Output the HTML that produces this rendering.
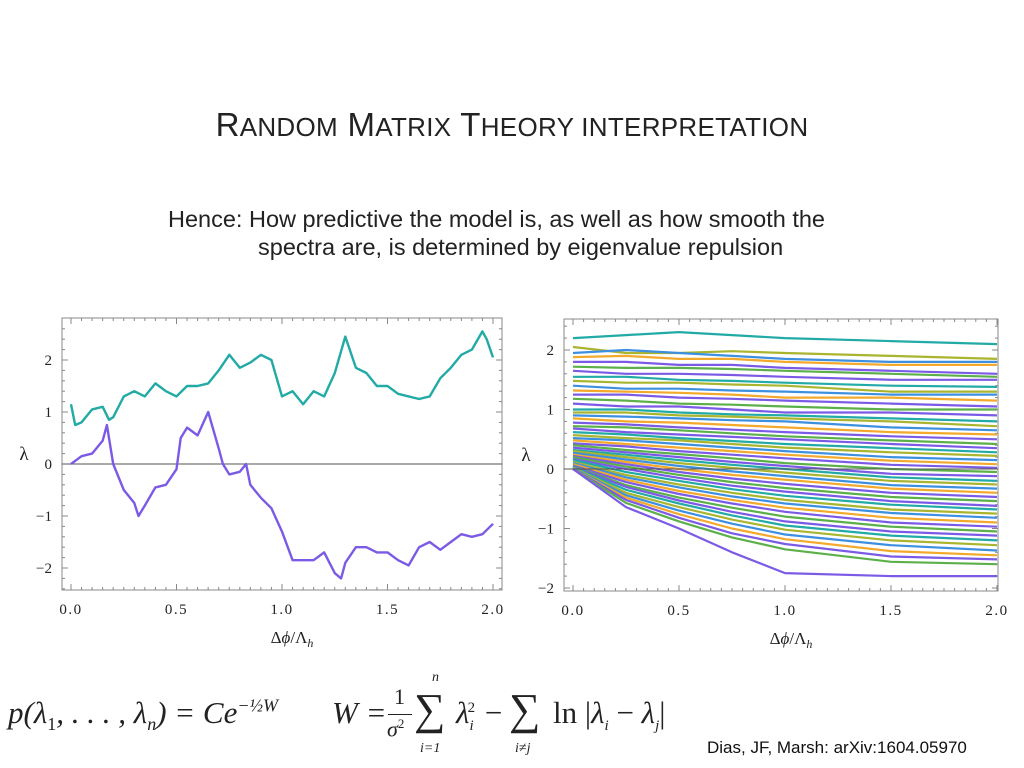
<!DOCTYPE html>
<html><head><meta charset="utf-8"><style>
body{margin:0;width:1024px;height:768px;background:#fff;overflow:hidden;position:relative;font-family:"Liberation Sans",sans-serif}
.abs{position:absolute;white-space:nowrap}
.m{font-family:"Liberation Serif",serif;color:#222}
</style></head><body>
<div class="abs" style="left:0;width:1024px;top:106px;text-align:center;font-size:33px;color:#222;letter-spacing:0.3px">R<span style="font-size:26px">ANDOM</span> M<span style="font-size:26px">ATRIX</span> T<span style="font-size:26px">HEORY INTERPRETATION</span></div>
<div class="abs" style="left:168px;top:206px;font-size:23.5px;color:#222">Hence: How predictive the model is, as well as how smooth the</div>
<div class="abs" style="left:258px;top:234px;font-size:23.5px;color:#222">spectra are, is determined by eigenvalue repulsion</div>

<svg id="chart" width="1024" height="768" style="position:absolute;left:0;top:0"></svg>

<div class="abs m" style="left:8px;top:695px;font-size:31px;font-style:italic">p(λ<sub style="font-style:normal;font-size:18px">1</sub>, . . . , λ<sub style="font-size:18px">n</sub>) = Ce<sup style="font-size:18px">−½W</sup></div>
<div class="abs m" style="left:332px;top:695px;font-size:31px;font-style:italic">W =</div>
<div class="abs m" style="left:394px;top:684px;font-size:22px">1</div>
<div class="abs" style="left:388px;top:714px;width:24px;border-top:1px solid #222"></div>
<div class="abs m" style="left:387px;top:716px;font-size:22px;font-style:italic">σ<sup style="font-size:13px;font-style:normal">2</sup></div>
<div class="abs m" style="left:414px;top:684px;font-size:44px">∑</div>
<div class="abs m" style="left:432px;top:670px;font-size:14px;font-style:italic">n</div>
<div class="abs m" style="left:420px;top:741px;font-size:14px;font-style:italic">i=1</div>
<div class="abs m" style="left:456px;top:695px;font-size:31px;font-style:italic">λ<sub style="font-size:15px">i</sub><sup style="font-size:15px;font-style:normal;margin-left:-6px">2</sup> −</div>
<div class="abs m" style="left:509px;top:684px;font-size:44px">∑</div>
<div class="abs m" style="left:515px;top:741px;font-size:14px;font-style:italic">i≠j</div>
<div class="abs m" style="left:553px;top:695px;font-size:31px">ln |<i>λ<sub style="font-size:15px">i</sub></i> − <i>λ<sub style="font-size:15px">j</sub></i>|</div>
<div class="abs" style="left:707px;top:738px;font-size:17px;color:#111">Dias, JF, Marsh: arXiv:1604.05970</div>

<script>
// Left chart data
const leftX=[0,0.02,0.05,0.1,0.15,0.18,0.2,0.25,0.3,0.35,0.4,0.45,0.5,0.55,0.6,0.65,0.7,0.75,0.8,0.85,0.9,0.95,1.0,1.05,1.1,1.15,1.2,1.25,1.3,1.35,1.4,1.45,1.5,1.55,1.6,1.65,1.7,1.75,1.8,1.85,1.9,1.95,1.97,2.0];
const tealY=[1.15,0.75,0.8,1.05,1.1,0.85,0.9,1.3,1.4,1.3,1.55,1.4,1.3,1.5,1.5,1.55,1.8,2.1,1.85,1.95,2.1,2.0,1.3,1.4,1.15,1.4,1.3,1.75,2.45,1.85,1.75,1.5,1.5,1.35,1.3,1.25,1.3,1.65,1.85,2.1,2.2,2.55,2.4,2.05];
const purpleX=[0,0.05,0.1,0.15,0.17,0.2,0.25,0.3,0.32,0.35,0.4,0.45,0.5,0.52,0.55,0.6,0.65,0.7,0.72,0.75,0.8,0.83,0.85,0.9,0.95,1.0,1.05,1.1,1.15,1.2,1.25,1.28,1.3,1.35,1.4,1.45,1.5,1.55,1.6,1.65,1.7,1.75,1.8,1.85,1.9,1.95,2.0];
const purpleY=[0,0.15,0.2,0.45,0.75,0.0,-0.5,-0.75,-1.0,-0.8,-0.45,-0.4,-0.1,0.5,0.7,0.55,1.0,0.3,0.0,-0.2,-0.15,0.0,-0.4,-0.65,-0.85,-1.3,-1.85,-1.85,-1.85,-1.7,-2.1,-2.2,-1.9,-1.6,-1.6,-1.7,-1.7,-1.85,-1.95,-1.6,-1.5,-1.65,-1.5,-1.35,-1.4,-1.35,-1.15];
const xTicks=["0.0","0.5","1.0","1.5","2.0"];
const leftYTicks=[-2,-1,0,1,2];
const rightYTicks=[-2,-1,0,1,2];
// Right chart data: values at these x positions
const rightX=[0,0.25,0.5,0.75,1.0,1.5,2.0];
const rightLines=[
[2.2,2.25,2.3,2.25,2.2,2.15,2.1],[2.05,1.95,1.95,1.98,1.95,1.9,1.85],[1.95,2.0,1.95,1.9,1.85,1.8,1.8],[1.88,1.9,1.85,1.85,1.8,1.75,1.75],
[1.8,1.8,1.75,1.75,1.7,1.65,1.6],[1.72,1.7,1.7,1.68,1.65,1.6,1.55],[1.65,1.6,1.6,1.58,1.55,1.5,1.5],[1.55,1.55,1.5,1.48,1.45,1.4,1.38],
[1.48,1.45,1.45,1.42,1.4,1.3,1.3],[1.4,1.35,1.35,1.32,1.3,1.25,1.25],[1.32,1.3,1.28,1.25,1.2,1.2,1.15],[1.25,1.25,1.2,1.18,1.15,1.1,1.05],
[1.18,1.15,1.1,1.08,1.05,1.0,1.0],[1.1,1.05,1.05,1.0,0.95,0.95,0.9],[1.0,1.0,0.95,0.92,0.9,0.85,0.8],[0.95,0.95,0.9,0.88,0.85,0.8,0.72],
[0.9,0.88,0.85,0.82,0.8,0.7,0.65],[0.85,0.8,0.78,0.74,0.7,0.62,0.58],[0.78,0.75,0.7,0.66,0.62,0.55,0.5],[0.72,0.7,0.65,0.6,0.55,0.48,0.42],
[0.68,0.62,0.58,0.54,0.5,0.42,0.35],[0.62,0.58,0.52,0.47,0.42,0.35,0.28],[0.57,0.52,0.48,0.42,0.36,0.28,0.22],[0.52,0.48,0.42,0.36,0.3,0.2,0.15],
[0.48,0.42,0.36,0.3,0.24,0.14,0.08],[0.43,0.38,0.3,0.24,0.18,0.07,0.02],[0.4,0.32,0.25,0.18,0.1,0.0,-0.05],[0.36,0.28,0.2,0.12,0.05,-0.08,-0.12],
[0.32,0.24,0.15,0.07,0.0,-0.14,-0.2],[0.3,0.2,0.1,0.02,-0.06,-0.2,-0.26],[0.27,0.16,0.05,-0.04,-0.12,-0.27,-0.33],[0.24,0.12,0.0,-0.1,-0.18,-0.33,-0.4],
[0.22,0.08,-0.05,-0.16,-0.25,-0.4,-0.47],[0.2,0.04,-0.1,-0.22,-0.32,-0.47,-0.54],[0.17,0.0,-0.15,-0.28,-0.38,-0.54,-0.62],[0.15,-0.05,-0.2,-0.34,-0.45,-0.6,-0.68],
[0.12,-0.1,-0.26,-0.4,-0.52,-0.68,-0.75],[0.1,-0.14,-0.31,-0.46,-0.58,-0.74,-0.82],[0.08,-0.18,-0.37,-0.52,-0.65,-0.82,-0.9],[0.06,-0.22,-0.42,-0.58,-0.72,-0.9,-0.97],
[0.05,-0.27,-0.48,-0.65,-0.8,-0.97,-1.05],[0.04,-0.3,-0.53,-0.72,-0.88,-1.05,-1.12],[0.03,-0.35,-0.58,-0.78,-0.95,-1.12,-1.2],[0.02,-0.4,-0.64,-0.85,-1.02,-1.2,-1.28],
[0.01,-0.44,-0.7,-0.92,-1.1,-1.28,-1.37],[0.0,-0.48,-0.76,-1.0,-1.18,-1.38,-1.45],[0.0,-0.52,-0.82,-1.08,-1.26,-1.47,-1.52],[0.0,-0.57,-0.88,-1.15,-1.35,-1.56,-1.6],
[0.0,-0.64,-1.0,-1.4,-1.75,-1.8,-1.8]];

const colors=["#22aaa6","#a9b52e","#3d8fe0","#f2a92c","#7b5be6","#5cb04a","#7b5be6"];
const NS="http://www.w3.org/2000/svg";
const svg=document.getElementById('chart');
function mk(tag,attrs,parent){const e=document.createElementNS(NS,tag);for(const k in attrs)e.setAttribute(k,attrs[k]);(parent||svg).appendChild(e);return e;}

function axes(P){
  const fx=v=>P.x0+(v/2)*(P.x2-P.x0);
  const fy=v=>P.y0-v*P.ppu;
  const f=mk('rect',{x:P.l,y:P.t,width:P.r-P.l,height:P.b-P.t,fill:'none',stroke:'#888','stroke-width':1});
  
  
  for(let i=0;i<=40;i++){const v=i*0.05;const x=fx(v);const L=(i%10===0)?6:3;
    mk('line',{x1:x,x2:x,y1:P.b,y2:P.b-L,stroke:'#888'});mk('line',{x1:x,x2:x,y1:P.t,y2:P.t+L,stroke:'#888'});}
  for(let v=-2.4;v<=2.6;v+=0.2){const y=fy(v);if(y<P.t||y>P.b)continue;const major=Math.abs(v-Math.round(v))<0.01;const L=major?6:3;
    mk('line',{x1:P.l,x2:P.l+L,y1:y,y2:y,stroke:'#888'});mk('line',{x1:P.r,x2:P.r-L,y1:y,y2:y,stroke:'#888'});}
  xTicks.forEach((t,i)=>{const e=mk('text',{x:fx(i*0.5),y:P.b+24,'text-anchor':'middle','font-family':'Liberation Serif, serif','font-size':15,'letter-spacing':1.5,fill:'#222'});e.textContent=t;
    
    });
  P.yt.forEach(v=>{const e=mk('text',{x:P.l-10,y:fy(v)+5,'text-anchor':'end','font-family':'Liberation Serif, serif','font-size':15,fill:'#222'});e.textContent=v<0?'\u2212'+(-v):String(v);
    
    });
  const xl=mk('text',{x:(P.l+P.r)/2+10,y:P.b+53,'text-anchor':'middle','font-family':'Liberation Serif, serif','font-size':17,fill:'#222'});
  xl.innerHTML='Δ<tspan font-style="italic">ϕ</tspan>/Λ<tspan font-size="12" dy="4" font-style="italic">h</tspan>';
  
  
  const yl=mk('text',{x:P.l-38,y:(P.t+P.b)/2+6,'text-anchor':'middle','font-family':'Liberation Serif, serif','font-size':19,fill:'#222'});yl.textContent='λ';
  
  
  return {fx,fy};
}
function line(xs,ys,A,color,name,w){
  const pts=xs.map((x,i)=>A.fx(x).toFixed(1)+','+A.fy(ys[i]).toFixed(1)).join(' ');
  const p=mk('polyline',{points:pts,fill:'none',stroke:color,'stroke-width':w,'stroke-linejoin':'round'});
  
  
}
// left
const L={name:'left-chart',l:62,r:502,t:318,b:590,x0:71,x2:493,y0:464,ppu:52,yt:leftYTicks};
const AL=axes(L);
mk('line',{x1:L.l,x2:L.r,y1:AL.fy(0),y2:AL.fy(0),stroke:'#555','stroke-width':1});
line(leftX,tealY,AL,'#22aaa6','teal-eigenvalue-series',2.4);
line(purpleX,purpleY,AL,'#7b5be6','purple-eigenvalue-series',2.4);
// right
const R={name:'right-chart',l:564,r:998,t:319,b:591,x0:573,x2:997,y0:469,ppu:59.5,yt:rightYTicks};
const AR=axes(R);
rightLines.forEach((ys,i)=>line(rightX,ys,AR,colors[i%colors.length],'eigenvalue-line',2.2));
mk('line',{x1:R.l,x2:R.r,y1:AR.fy(0),y2:AR.fy(0),stroke:'#555','stroke-width':1});
</script>
</body></html>
